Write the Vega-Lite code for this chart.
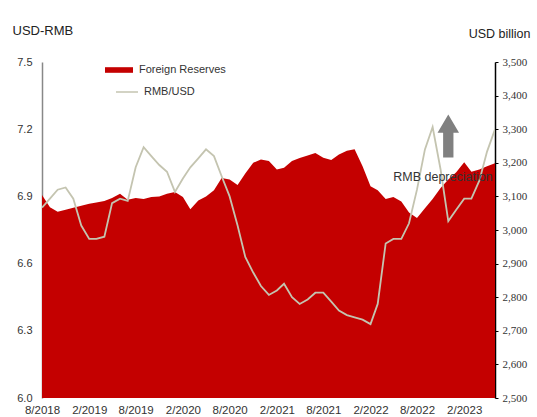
{
  "$schema": "https://vega.github.io/schema/vega-lite/v6.json",
  "autosize": {"type": "none"},
  "padding": {"left": 42, "top": 62, "right": 42, "bottom": 19},
  "width": 453,
  "height": 336,
  "background": "white",
  "config": {"font": "Liberation Sans", "view": {"stroke": null}},
  "data": {"values": [
    {"date": "2018-08-01", "reserves": 3104, "rmb": 6.85},
    {"date": "2018-09-01", "reserves": 3068, "rmb": 6.89},
    {"date": "2018-10-01", "reserves": 3054, "rmb": 6.93},
    {"date": "2018-11-01", "reserves": 3060, "rmb": 6.94},
    {"date": "2018-12-01", "reserves": 3066, "rmb": 6.89},
    {"date": "2019-01-01", "reserves": 3072, "rmb": 6.77},
    {"date": "2019-02-01", "reserves": 3078, "rmb": 6.71},
    {"date": "2019-03-01", "reserves": 3082, "rmb": 6.71},
    {"date": "2019-04-01", "reserves": 3086, "rmb": 6.72},
    {"date": "2019-05-01", "reserves": 3095, "rmb": 6.87},
    {"date": "2019-06-01", "reserves": 3108, "rmb": 6.89},
    {"date": "2019-07-01", "reserves": 3090, "rmb": 6.88},
    {"date": "2019-08-01", "reserves": 3095, "rmb": 7.03},
    {"date": "2019-09-01", "reserves": 3092, "rmb": 7.12},
    {"date": "2019-10-01", "reserves": 3098, "rmb": 7.08},
    {"date": "2019-11-01", "reserves": 3100, "rmb": 7.04},
    {"date": "2019-12-01", "reserves": 3108, "rmb": 7.01},
    {"date": "2020-01-01", "reserves": 3113, "rmb": 6.92},
    {"date": "2020-02-01", "reserves": 3098, "rmb": 6.98},
    {"date": "2020-03-01", "reserves": 3062, "rmb": 7.03},
    {"date": "2020-04-01", "reserves": 3088, "rmb": 7.07},
    {"date": "2020-05-01", "reserves": 3100, "rmb": 7.11},
    {"date": "2020-06-01", "reserves": 3118, "rmb": 7.08},
    {"date": "2020-07-01", "reserves": 3155, "rmb": 6.99},
    {"date": "2020-08-01", "reserves": 3150, "rmb": 6.90},
    {"date": "2020-09-01", "reserves": 3134, "rmb": 6.77},
    {"date": "2020-10-01", "reserves": 3168, "rmb": 6.63},
    {"date": "2020-11-01", "reserves": 3200, "rmb": 6.56},
    {"date": "2020-12-01", "reserves": 3210, "rmb": 6.50},
    {"date": "2021-01-01", "reserves": 3205, "rmb": 6.46},
    {"date": "2021-02-01", "reserves": 3180, "rmb": 6.48},
    {"date": "2021-03-01", "reserves": 3185, "rmb": 6.51},
    {"date": "2021-04-01", "reserves": 3205, "rmb": 6.45},
    {"date": "2021-05-01", "reserves": 3214, "rmb": 6.42},
    {"date": "2021-06-01", "reserves": 3222, "rmb": 6.44},
    {"date": "2021-07-01", "reserves": 3229, "rmb": 6.47},
    {"date": "2021-08-01", "reserves": 3215, "rmb": 6.47},
    {"date": "2021-09-01", "reserves": 3208, "rmb": 6.43},
    {"date": "2021-10-01", "reserves": 3225, "rmb": 6.39},
    {"date": "2021-11-01", "reserves": 3236, "rmb": 6.37},
    {"date": "2021-12-01", "reserves": 3240, "rmb": 6.36},
    {"date": "2022-01-01", "reserves": 3190, "rmb": 6.35},
    {"date": "2022-02-01", "reserves": 3130, "rmb": 6.33},
    {"date": "2022-03-01", "reserves": 3118, "rmb": 6.42},
    {"date": "2022-04-01", "reserves": 3092, "rmb": 6.69},
    {"date": "2022-05-01", "reserves": 3098, "rmb": 6.71},
    {"date": "2022-06-01", "reserves": 3085, "rmb": 6.71},
    {"date": "2022-07-01", "reserves": 3052, "rmb": 6.78},
    {"date": "2022-08-01", "reserves": 3036, "rmb": 6.93},
    {"date": "2022-09-01", "reserves": 3065, "rmb": 7.11},
    {"date": "2022-10-01", "reserves": 3092, "rmb": 7.21},
    {"date": "2022-11-01", "reserves": 3125, "rmb": 7.02},
    {"date": "2022-12-01", "reserves": 3150, "rmb": 6.79},
    {"date": "2023-01-01", "reserves": 3172, "rmb": 6.84},
    {"date": "2023-02-01", "reserves": 3202, "rmb": 6.89},
    {"date": "2023-03-01", "reserves": 3173, "rmb": 6.89},
    {"date": "2023-04-01", "reserves": 3180, "rmb": 6.97},
    {"date": "2023-05-01", "reserves": 3190, "rmb": 7.10},
    {"date": "2023-06-01", "reserves": 3199, "rmb": 7.20}
  ]},
  "encoding": {
    "x": {
      "field": "date", "type": "temporal",
      "scale": {"type": "utc", "domain": [{"year": 2018, "month": 8, "date": 1, "utc": true}, {"year": 2023, "month": 6, "date": 1, "utc": true}]},
      "axis": {
        "title": null, "grid": false, "domain": false, "ticks": false,
        "labelPadding": 6, "labelFontSize": 11.5, "labelColor": "#333333",
        "labelOverlap": false, "labelFlush": false,
        "values": [
          {"year": 2018, "month": 8, "date": 1, "utc": true},
          {"year": 2019, "month": 2, "date": 1, "utc": true},
          {"year": 2019, "month": 8, "date": 1, "utc": true},
          {"year": 2020, "month": 2, "date": 1, "utc": true},
          {"year": 2020, "month": 8, "date": 1, "utc": true},
          {"year": 2021, "month": 2, "date": 1, "utc": true},
          {"year": 2021, "month": 8, "date": 1, "utc": true},
          {"year": 2022, "month": 2, "date": 1, "utc": true},
          {"year": 2022, "month": 8, "date": 1, "utc": true},
          {"year": 2023, "month": 2, "date": 1, "utc": true}
        ],
        "labelExpr": "utcFormat(datum.value, '%-m/%Y')"
      }
    }
  },
  "layer": [
    {
      "mark": {"type": "area", "clip": true, "interpolate": "linear"},
      "encoding": {
        "y": {
          "field": "reserves", "type": "quantitative",
          "scale": {"domain": [2500, 3500], "nice": false, "zero": false},
          "axis": {
            "orient": "right", "title": "USD billion", "titleAngle": 0,
            "titleAlign": "right", "titleBaseline": "middle", "titleX": 35, "titleY": -29,
            "titleFontSize": 12.5, "titleFontWeight": "normal", "titleColor": "#222222",
            "values": [2500, 2600, 2700, 2800, 2900, 3000, 3100, 3200, 3300, 3400, 3500],
            "labelExpr": "format(datum.value, ',')", "grid": false,
            "domainColor": "#000000", "domainWidth": 1.5,
            "tickColor": "#000000", "tickSize": 3, "tickWidth": 1,
            "labelPadding": 4, "labelFontSize": 11, "labelFont": "Liberation Sans Narrow",
            "labelColor": "#333333"
          }
        },
        "fill": {
          "datum": "Foreign Reserves",
          "scale": {"range": ["#c40000"]},
          "legend": {
            "orient": "none", "legendX": 63, "legendY": -6, "title": null, "padding": 0,
            "symbolType": "M-1,-0.2L1,-0.2L1,0.2L-1,0.2Z", "symbolSize": 784,
            "symbolStrokeWidth": 0, "labelFontSize": 11, "labelOffset": 6, "labelColor": "#333333"
          }
        }
      }
    },
    {
      "layer": [
        {
          "mark": {"type": "line", "strokeWidth": 1.8, "clip": true},
          "encoding": {
            "y": {
              "field": "rmb", "type": "quantitative",
              "scale": {"domain": [6.0, 7.5], "nice": false, "zero": false},
              "axis": {
                "orient": "left", "title": "USD-RMB", "titleAngle": 0,
                "titleAlign": "left", "titleBaseline": "middle", "titleX": -30, "titleY": -32,
                "titleFontSize": 13, "titleFontWeight": "normal", "titleColor": "#222222",
                "values": [6.0, 6.3, 6.6, 6.9, 7.2, 7.5], "format": ".1f", "grid": false,
                "domainColor": "#888888", "domainWidth": 1.5, "ticks": false,
                "labelPadding": 10, "labelFontSize": 11, "labelColor": "#333333"
              }
            },
            "stroke": {
              "datum": "RMB/USD",
              "scale": {"range": ["#c4c4b0"]},
              "legend": {
                "orient": "none", "legendX": 73, "legendY": 18, "title": null, "padding": 0,
                "symbolType": "stroke", "symbolSize": 484, "symbolStrokeWidth": 1.5,
                "labelFontSize": 11, "labelOffset": 5, "labelColor": "#333333"
              }
            }
          }
        },
        {
          "transform": [{"filter": "utcyear(datum.date) == 2022 && utcmonth(datum.date) == 11"}],
          "mark": {
            "type": "point", "filled": true, "opacity": 1, "color": "#808080", "strokeWidth": 0,
            "shape": "M0,-1L0.5,-0.15L0.24,-0.15L0.24,1L-0.24,1L-0.24,-0.15L-0.5,-0.15Z",
            "size": 1849
          },
          "encoding": {
            "x": {"datum": {"year": 2022, "month": 12, "date": 1, "utc": true}, "type": "temporal"},
            "y": {"datum": 7.17, "type": "quantitative"}
          }
        },
        {
          "transform": [{"filter": "utcyear(datum.date) == 2022 && utcmonth(datum.date) == 11"}],
          "mark": {"type": "text", "fontSize": 12.5, "color": "#333333", "align": "center", "baseline": "middle"},
          "encoding": {
            "x": {"datum": {"year": 2022, "month": 11, "date": 10, "utc": true}, "type": "temporal"},
            "y": {"datum": 6.985, "type": "quantitative"},
            "text": {"value": "RMB depreciation"}
          }
        }
      ]
    }
  ],
  "resolve": {"scale": {"y": "independent"}}
}
